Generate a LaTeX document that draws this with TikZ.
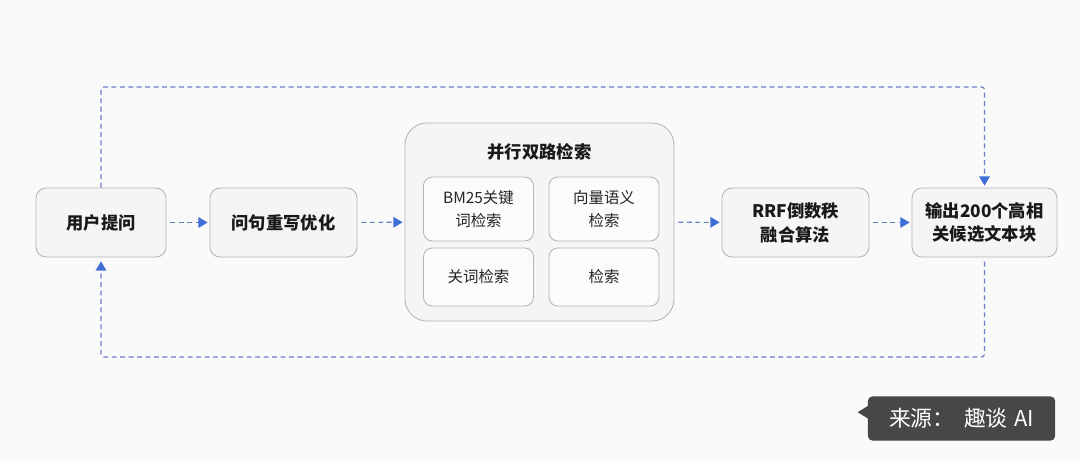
\documentclass[tikz,border=0pt]{standalone}
\usepackage{fontspec}
\setmainfont{Noto Sans CJK SC}
\usetikzlibrary{arrows.meta,positioning}

\definecolor{linecol}{HTML}{6A7EC6}
\definecolor{tipcol}{HTML}{3F6FD6}
\definecolor{boxline}{HTML}{B4B4B4}
\definecolor{boxfill}{HTML}{F5F5F5}
\definecolor{tagfill}{HTML}{474747}
\definecolor{bgcol}{HTML}{FAFAFA}

\tikzset{
  stage/.style={draw=boxline, fill=boxfill, line width=0.6pt, rounded corners=0.25cm,
    align=center, text=black!90, minimum height=1.725cm,
    font=\fontsize{12.3}{17}\selectfont\bfseries},
  group/.style={draw=boxline, fill=boxfill, line width=0.6pt, rounded corners=0.55cm,
    minimum width=6.725cm, minimum height=4.95cm},
  sub/.style={draw=boxline, fill=white!60!boxfill, line width=0.6pt, rounded corners=0.22cm,
    align=center, text=black!85, minimum width=2.75cm,
    font=\fontsize{11}{16.3}\selectfont},
  flow/.style={linecol, line width=0.8pt, dash pattern=on 3.5pt off 2.5pt,
    -{Triangle[length=6.5pt,width=7.5pt,color=tipcol]}},
  tag/.style={fill=tagfill, text=white, rounded corners=3pt,
    minimum width=4.675cm, minimum height=1.1cm, inner xsep=0pt,
    font=\fontsize{15.5}{18}\selectfont},
}

\begin{document}
\begin{tikzpicture}[x=0.025cm,y=-0.025cm]
    \fill[bgcol] (0,0) rectangle (1080,461);
    \useasboundingbox (0,0) rectangle (1080,461);
    % main stages
    \node[stage, minimum width=3.25cm] (user) at (101,222.5) {用户提问};
    \node[stage, minimum width=3.675cm] (rewrite) at (283.5,222.5) {问句重写优化};
    \node[group] (par) at (539.5,222) {};
    \node[font=\fontsize{12.3}{15}\selectfont\bfseries, text=black!90] (partitle) at (539.5,152) {并行双路检索};
    % the four retrieval boxes
    \node[sub, minimum height=1.6cm] (bm25) at (478.5,209) {BM25关键\\词检索};
    \node[sub, minimum height=1.6cm] (vec) at (604,209) {向量语义\\检索};
    \node[sub, minimum height=1.45cm] (kw) at (478.5,277) {关词检索};
    \node[sub, minimum height=1.45cm] (ret) at (604,277) {检索};
    \node[stage, minimum width=3.675cm] (rrf) at (795.5,222.5) {RRF倒数秩\\融合算法};
    \node[stage, minimum width=3.625cm] (output) at (984.5,222.5) {输出200个高相\\关候选文本块};
    % forward flow
    \draw[flow, shorten <=2.8pt, shorten >=1.4pt] (user) -- (rewrite);
    \draw[flow, shorten <=2.8pt, shorten >=1.4pt] (rewrite) -- (par);
    \draw[flow, shorten <=2.8pt, shorten >=1.4pt] (par) -- (rrf);
    \draw[flow, shorten <=2.8pt, shorten >=1.4pt] (rrf) -- (output);
    % feedback loop
    \coordinate (looptop) at (101,87);
    \coordinate (loopbot) at (984.5,357);
    \draw[flow, rounded corners=2pt, shorten >=1.4pt] (user.north) -- (looptop) -| (output.north);
    \draw[flow, rounded corners=2pt, shorten <=3pt, shorten >=2.8pt] (output.south) -- (loopbot) -| (user.south);
    % source tag
    \node[tag] (src) at (961.5,418.5) {来源：\hspace{0.45em}趣谈\hspace{0.3em}AI};
    \fill[tagfill] (src.north west) ++(0.5,9.5) -- ++(-10.5,6.5) -- ++(10.5,6.5) -- cycle;
\end{tikzpicture}
\end{document}
